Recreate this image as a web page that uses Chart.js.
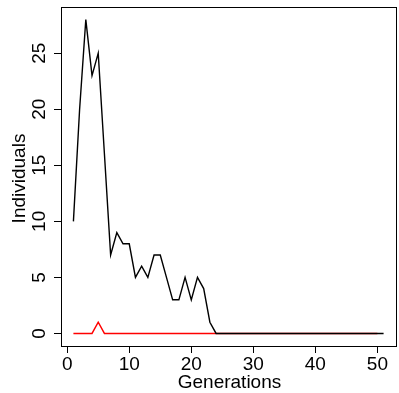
<!DOCTYPE html>
<html lang="en">
<head>
    <meta charset="UTF-8">
    <title>Individuals per generation</title>
    <script src="https://cdn.jsdelivr.net/npm/chart.js"></script>
    <style>
        html, body {
            margin: 0;
            padding: 0;
            background: #fff;
        }
        canvas {
            display: block;
        }
    </style>
</head>
<body>
    <canvas id="genChart" width="399" height="393"></canvas>

    <script>
        // x values (generations)
        const generations = [1, 2, 3, 4, 5, 6, 7, 8, 9, 10,
            11, 12, 13, 14, 15, 16, 17, 18, 19, 20,
            21, 22, 23, 24, 25, 26, 27, 28, 29, 30,
            31, 32, 33, 34, 35, 36, 37, 38, 39, 40,
            41, 42, 43, 44, 45, 46, 47, 48, 49, 50, 51];

        // black line
        const blackCounts = [10, 20, 28, 23, 25, 16, 7, 9, 8, 8,
            5, 6, 5, 7, 7, 5, 3, 3, 5, 3,
            5, 4, 1, 0, 0, 0, 0, 0, 0, 0,
            0, 0, 0, 0, 0, 0, 0, 0, 0, 0,
            0, 0, 0, 0, 0, 0, 0, 0, 0, 0, 0];

        // red line (stops at generation 50)
        const redCounts = [0, 0, 0, 0, 1, 0, 0, 0, 0, 0,
            0, 0, 0, 0, 0, 0, 0, 0, 0, 0,
            0, 0, 0, 0, 0, 0, 0, 0, 0, 0,
            0, 0, 0, 0, 0, 0, 0, 0, 0, 0,
            0, 0, 0, 0, 0, 0, 0, 0, 0, 0];

        const xTicks = [0, 10, 20, 30, 40, 50];
        const yTicks = [0, 5, 10, 15, 20, 25];

        const FONT = '"Liberation Sans", Arial, sans-serif';
        const FONT_SIZE = 19;

        const toPoints = (vals) => vals.map((v, i) => ({ x: generations[i], y: v }));

        // box round the plot + rotated y labels + axis titles (R style)
        const rFrame = {
            id: 'rFrame',
            afterDraw(chart) {
                const { ctx, chartArea: a, scales } = chart;
                ctx.save();
                ctx.strokeStyle = '#000';
                ctx.lineWidth = 1;
                ctx.strokeRect(a.left + 0.5, a.top + 0.5, a.right - a.left, a.bottom - a.top);

                ctx.fillStyle = '#000';
                ctx.font = FONT_SIZE + 'px ' + FONT;
                ctx.textAlign = 'center';
                ctx.textBaseline = 'middle';

                yTicks.forEach(v => {
                    ctx.save();
                    ctx.translate(40, scales.y.getPixelForValue(v));
                    ctx.rotate(-Math.PI / 2);
                    ctx.fillText(String(v), 0, 0);
                    ctx.restore();
                });

                ctx.save();
                ctx.translate(20, (a.top + a.bottom) / 2 + 2);
                ctx.rotate(-Math.PI / 2);
                ctx.fillText('Individuals', 0, 0);
                ctx.restore();

                ctx.fillText('Generations', (a.left + a.right) / 2 + 1, 383);
                ctx.restore();
            }
        };

        new Chart(document.getElementById('genChart'), {
            type: 'line',
            data: {
                datasets: [
                    {
                        data: toPoints(blackCounts),
                        borderColor: '#000000',
                        borderWidth: 1.4,
                        pointRadius: 0,
                        tension: 0
                    },
                    {
                        data: toPoints(redCounts),
                        borderColor: '#ff0000',
                        borderWidth: 1.4,
                        pointRadius: 0,
                        tension: 0
                    }
                ]
            },
            options: {
                responsive: false,
                animation: false,
                layout: { padding: { top: 7, right: 3, bottom: 0, left: 0 } },
                plugins: {
                    legend: { display: false },
                    tooltip: { enabled: false }
                },
                scales: {
                    x: {
                        type: 'linear',
                        min: -1,
                        max: 53,
                        afterBuildTicks: (s) => { s.ticks = xTicks.map(v => ({ value: v })); },
                        afterFit: (s) => { s.height = 47; },
                        border: { display: false },
                        grid: {
                            drawOnChartArea: false,
                            drawTicks: true,
                            tickLength: 7,
                            color: '#000'
                        },
                        ticks: {
                            color: '#000',
                            padding: 0,
                            maxRotation: 0,
                            font: { family: FONT, size: FONT_SIZE }
                        }
                    },
                    y: {
                        min: -1.12,
                        max: 29.12,
                        afterBuildTicks: (s) => { s.ticks = yTicks.map(v => ({ value: v })); },
                        afterFit: (s) => { s.width = 61; },
                        border: { display: false },
                        grid: {
                            drawOnChartArea: false,
                            drawTicks: true,
                            tickLength: 7,
                            color: '#000'
                        },
                        ticks: { display: false }
                    }
                }
            },
            plugins: [rFrame]
        });
    </script>
</body>
</html>
